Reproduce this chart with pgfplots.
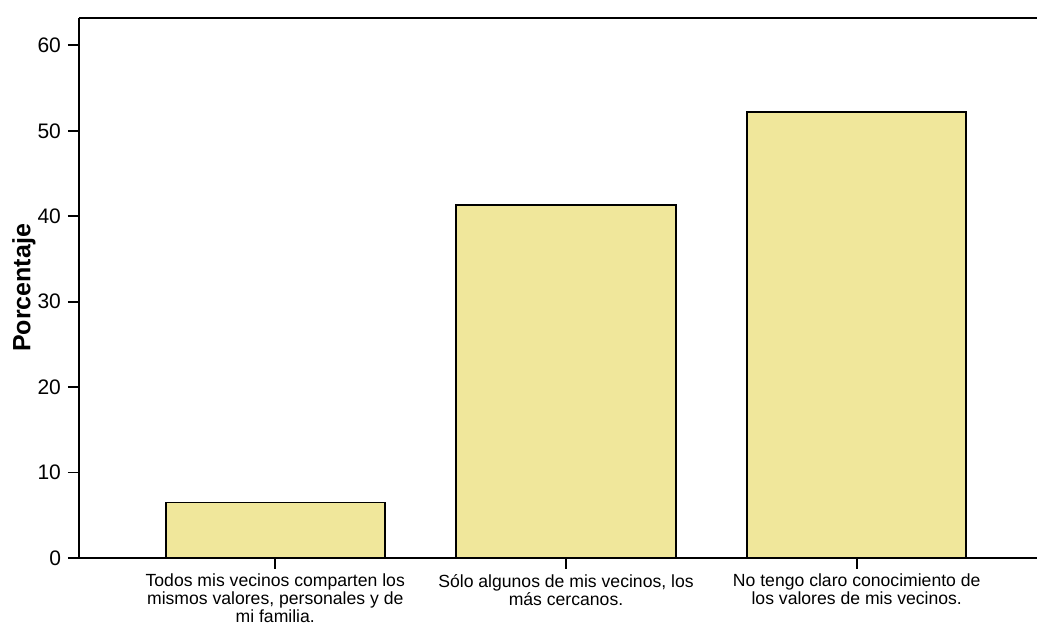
\documentclass[border=0pt]{standalone}
\usepackage{pgfplots}
\pgfplotsset{compat=1.18}
\usepackage{fontspec}
\setmainfont{Liberation Sans}
\definecolor{barfill}{RGB}{240,231,155}

\begin{document}
\begin{tikzpicture}
\begin{axis}[
    name=ax,
    scale only axis,
    width=479pt, height=270pt,
    xmin=-0.675, xmax=2.62,
    ymin=0, ymax=63.2,
    axis x line*=bottom, axis y line*=left,
    axis line style={line width=1.1pt},
    xtick={0,1,2},
    xticklabels={
        {Todos mis vecinos comparten los\\mismos valores, personales y de\\mi familia.},
        {Sólo algunos de mis vecinos, los\\más cercanos.},
        {No tengo claro conocimiento de\\los valores de mis vecinos.}},
    xticklabel style={align=center, font=\fontsize{8.8}{9}\selectfont, yshift=1pt},
    ytick={0,10,...,60},
    yticklabel style={font=\fontsize{10.5}{12}\selectfont},
    /pgf/number format/assume math mode=true,
    tick align=outside,
    tick style={line width=0.9pt, black},
    major tick length=5.5pt,
    ylabel={Porcentaje},
    every axis y label/.style={at={(axis description cs:-0.0574,0.5)}, anchor=center, rotate=90,
        font=\bfseries\fontsize{12.5}{14}\selectfont},
]
\addplot[ybar, bar width=0.754, fill=barfill, draw=black, line width=0.9pt]
    coordinates {(0,6.5) (1,41.3) (2,52.2)};
\draw[line width=1.1pt] (rel axis cs:0,1) -- (rel axis cs:1,1);
\end{axis}
\pgfresetboundingbox
\path ([xshift=-39.5pt,yshift=-34pt]ax.south west) rectangle ([xshift=1pt,yshift=9pt]ax.north east);
\end{tikzpicture}
\end{document}
